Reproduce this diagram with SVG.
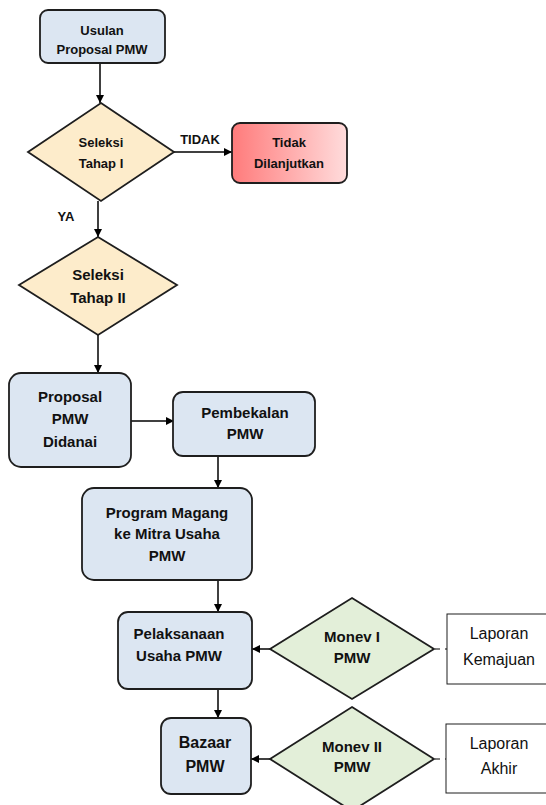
<svg xmlns="http://www.w3.org/2000/svg" width="546" height="805" viewBox="0 0 546 805">
<defs>
<marker id="ah" viewBox="0 0 10 10" refX="10" refY="5" markerWidth="8" markerHeight="8" markerUnits="userSpaceOnUse" orient="auto">
<path d="M0,0 L10,5 L0,10 z" fill="#000"/>
</marker>
<linearGradient id="red" x1="0" y1="0" x2="1" y2="0">
<stop offset="0" stop-color="#ff7b7b"/>
<stop offset="1" stop-color="#ffdcdc"/>
</linearGradient>
<style>
.box{fill:#dce6f2;stroke:#1e1e1e;stroke-width:1.8}
.dia{fill:#fdeccb;stroke:#1e1e1e;stroke-width:1.8}
.gdia{fill:#e3efd9;stroke:#1e1e1e;stroke-width:1.8}
.doc{fill:#fff;stroke:#1e1e1e;stroke-width:1}
.t{font-family:"Liberation Sans",Arial,sans-serif;font-weight:bold;text-anchor:middle;fill:#111}
.s13{font-size:13px}
.s15{font-size:15px}
.s16{font-size:16px}
.n{font-family:"Liberation Sans",Arial,sans-serif;font-size:16px;text-anchor:middle;fill:#111}
.c{stroke:#000;stroke-width:1.5;fill:none}
.d{stroke:#000;stroke-width:1.2;fill:none;stroke-dasharray:5 5}
</style>
</defs>
<rect width="546" height="805" fill="#fff"/>

<g id="connectors">
<line class="c" x1="100" y1="63" x2="100" y2="103" marker-end="url(#ah)"/>
<line class="c" x1="174" y1="152" x2="232" y2="152" marker-end="url(#ah)"/>
<line class="c" x1="98" y1="201" x2="98" y2="237" marker-end="url(#ah)"/>
<line class="c" x1="98" y1="335" x2="98" y2="373" marker-end="url(#ah)"/>
<line class="c" x1="131" y1="421" x2="174" y2="421" marker-end="url(#ah)"/>
<line class="c" x1="218" y1="456" x2="218" y2="488" marker-end="url(#ah)"/>
<line class="c" x1="218" y1="580" x2="218" y2="612" marker-end="url(#ah)"/>
<line class="c" x1="218" y1="689" x2="218" y2="718" marker-end="url(#ah)"/>
<line class="c" x1="270" y1="649" x2="252" y2="649" marker-end="url(#ah)"/>
<line class="c" x1="270" y1="759" x2="251" y2="759" marker-end="url(#ah)"/>
<line class="d" x1="435" y1="649" x2="447" y2="649"/>
<line class="d" x1="435" y1="759" x2="446" y2="759"/>
<text class="t s13" x="200" y="144">TIDAK</text>
<text class="t s13" x="66" y="221">YA</text>
</g>

<g id="usulan">
<rect class="box" x="40" y="10" width="125" height="53" rx="8"/>
<text class="t s13" x="102" y="35">Usulan</text>
<text class="t s13" x="102" y="54">Proposal PMW</text>
</g>

<g id="seleksi1">
<polygon class="dia" points="101,103 174,152 101,201 28,152"/>
<text class="t s13" x="101" y="147">Seleksi</text>
<text class="t s13" x="101" y="168">Tahap I</text>
</g>

<g id="tidak">
<rect x="232" y="123" width="115" height="60" rx="8" fill="url(#red)" stroke="#1e1e1e" stroke-width="1.8"/>
<text class="t s13" x="289" y="147">Tidak</text>
<text class="t s13" x="289" y="168">Dilanjutkan</text>
</g>

<g id="seleksi2">
<polygon class="dia" points="98,237 177,285 98,335 19,285"/>
<text class="t s15" x="98" y="280">Seleksi</text>
<text class="t s15" x="98" y="303">Tahap II</text>
</g>

<g id="didanai">
<rect class="box" x="9" y="373" width="122" height="94" rx="12"/>
<text class="t s15" x="70" y="402">Proposal</text>
<text class="t s15" x="70" y="424">PMW</text>
<text class="t s15" x="70" y="447">Didanai</text>
</g>

<g id="pembekalan">
<rect class="box" x="173" y="392" width="142" height="64" rx="10"/>
<text class="t s15" x="245" y="418">Pembekalan</text>
<text class="t s15" x="245" y="439">PMW</text>
</g>

<g id="magang">
<rect class="box" x="82" y="488" width="170" height="92" rx="12"/>
<text class="t s15" x="167" y="518">Program Magang</text>
<text class="t s15" x="167" y="539">ke Mitra Usaha</text>
<text class="t s15" x="167" y="561">PMW</text>
</g>

<g id="pelaksanaan">
<rect class="box" x="118" y="612" width="134" height="77" rx="10"/>
<text class="t s15" x="179" y="639">Pelaksanaan</text>
<text class="t s15" x="179" y="661">Usaha PMW</text>
</g>

<g id="monev1">
<polygon class="gdia" points="352,598 434,649 352,699 270,649"/>
<text class="t s15" x="352" y="642">Monev I</text>
<text class="t s15" x="352" y="663">PMW</text>
</g>

<g id="kemajuan">
<rect class="doc" x="447" y="614" width="105" height="70"/>
<text class="n" x="499" y="639">Laporan</text>
<text class="n" x="499" y="665">Kemajuan</text>
</g>

<g id="bazaar">
<rect class="box" x="161" y="718" width="90" height="76" rx="10"/>
<text class="t s16" x="205" y="748">Bazaar</text>
<text class="t s16" x="205" y="772">PMW</text>
</g>

<g id="monev2">
<polygon class="gdia" points="352,707 434,759 352,811 270,759"/>
<text class="t s15" x="352" y="752">Monev II</text>
<text class="t s15" x="352" y="772">PMW</text>
</g>

<g id="akhir">
<rect class="doc" x="446" y="724" width="106" height="69"/>
<text class="n" x="499" y="749">Laporan</text>
<text class="n" x="499" y="774">Akhir</text>
</g>
</svg>
